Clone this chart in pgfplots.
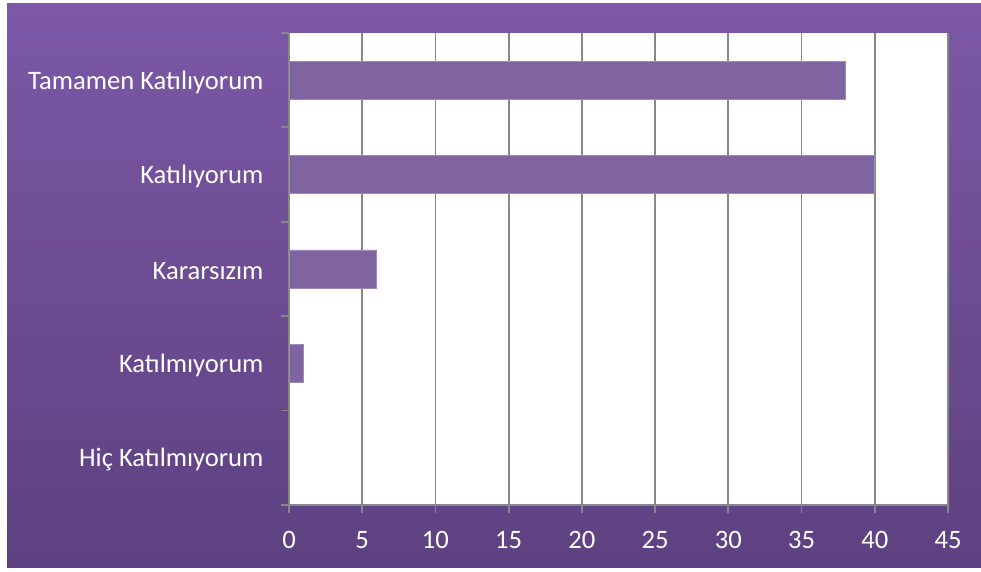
\documentclass[border=0pt]{standalone}
\usepackage{fontspec}
\setmainfont{Carlito}
\usepackage{pgfplots}
\pgfplotsset{compat=1.18}
\definecolor{bgtop}{HTML}{7C58A6}
\definecolor{bgbot}{HTML}{5D4180}
\definecolor{barc}{HTML}{8064A2}
\definecolor{bare}{HTML}{9D8ABD}
\definecolor{gridc}{HTML}{878787}
\begin{document}
\begin{tikzpicture}[x=1pt,y=1pt]
\path[use as bounding box] (0,0) rectangle (981,572);
\shade[top color=bgtop,bottom color=bgbot] (7,4) rectangle (981,568);
\begin{axis}[
  at={(289pt,67pt)}, anchor=south west,
  scale only axis, width=659pt, height=472pt,
  xmin=0, xmax=45, ymin=-0.5, ymax=4.5,
  xtick={0,5,...,45},
  ytick={-0.5,0.5,1.5,2.5,3.5,4.5},
  y tick label as interval,
  yticklabels={Hiç Katılmıyorum, Katılmıyorum, Kararsızım, Katılıyorum, Tamamen Katılıyorum},
  axis x line*=bottom, axis y line*=left,
  axis line style={gridc, line width=1.8pt, -},
  tick align=outside, major tick length=8pt,
  tick style={gridc, line width=1.8pt},
  xmajorgrids, grid style={gridc, line width=1.8pt},
  axis background/.style={fill=white},
  /pgf/number format/assume math mode=true,
  ticklabel style={white, font=\fontsize{26.6}{30}\selectfont},
  yticklabel style={xshift=-14pt, yshift=-2pt},
  xticklabel style={yshift=-15pt},
  xbar, bar width=38pt, bar shift=0pt,
  clip=false,
]
\addplot[fill=barc, draw=bare, line width=0.8pt] coordinates {(0,0) (1,1) (6,2) (40,3) (38,4)};
\end{axis}
\end{tikzpicture}
\end{document}
